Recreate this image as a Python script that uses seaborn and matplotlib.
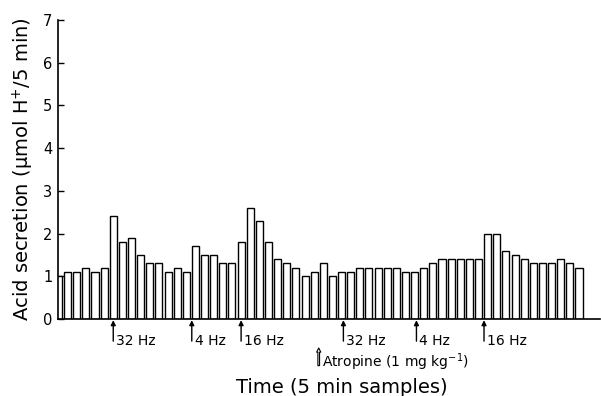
import numpy as np
import pandas as pd
import matplotlib
matplotlib.use("Agg")
import matplotlib.pyplot as plt
import matplotlib.transforms as mtransforms
import seaborn as sns

# acid secretion per 5 min sample (umol H+/5 min)
secretion = [1.0, 1.1, 1.1, 1.2, 1.1, 1.2, 2.4, 1.8, 1.9, 1.5,
             1.3, 1.3, 1.1, 1.2, 1.1, 1.7, 1.5, 1.5, 1.3, 1.3,
             1.8, 2.6, 2.3, 1.8, 1.4, 1.3, 1.2, 1.0, 1.1, 1.3,
             1.0, 1.1, 1.1, 1.2, 1.2, 1.2, 1.2, 1.2, 1.1, 1.1,
             1.2, 1.3, 1.4, 1.4, 1.4, 1.4, 1.4, 2.0, 2.0, 1.6,
             1.5, 1.4, 1.3, 1.3, 1.3, 1.4, 1.3, 1.2]
samples = list(range(len(secretion)))

# stimulation markers (sample position, label)
stim_pos = [6, 14.6, 20, 31.2, 39.2, 46.6]
stim_labels = ["32 Hz", "4 Hz", "16 Hz", "32 Hz", "4 Hz", "16 Hz"]
atropine_pos = 28.5
atropine_label = "Atropine (1 mg kg$^{-1}$)"

y_ticks = [0, 1, 2, 3, 4, 5, 6, 7]

sns.set_style("ticks")
plt.rcParams["font.family"] = ["DejaVu Sans"]
plt.rcParams["mathtext.fontset"] = "dejavusans"
for key in ["text.color", "axes.labelcolor", "xtick.color", "ytick.color",
            "axes.edgecolor"]:
    plt.rcParams[key] = "black"

fig = plt.figure(figsize=(6.01, 3.96), dpi=100)
ax = fig.add_axes([58 / 601, 1 - 319 / 396, 542 / 601, 299 / 396])

df = pd.DataFrame({"sample": samples, "secretion": secretion})
sns.barplot(data=df, x="sample", y="secretion", color="white",
            edgecolor="black", linewidth=1.0, width=0.77, ax=ax)

ax.set_xlim(-0.05, 59.3)
ax.set_ylim(0, 7)
ax.set_yticks(y_ticks)
ax.set_yticklabels([str(t) for t in y_ticks], fontsize=10.5)
ax.set_xticks([])
ax.tick_params(axis="y", direction="in", length=4, width=1, pad=4)
for side in ["top", "right"]:
    ax.spines[side].set_visible(False)
for side in ["left", "bottom"]:
    ax.spines[side].set_linewidth(1.2)

ax.set_ylabel("Acid secretion (\u03bcmol H$^{+}$/5 min)", fontsize=14, labelpad=5)
ax.set_xlabel("")

trans = mtransforms.blended_transform_factory(ax.transData, ax.transAxes)
for pos, lab in zip(stim_pos, stim_labels):
    ax.annotate("", xy=(pos, -0.004), xytext=(pos, -0.074),
                xycoords=trans, textcoords=trans, annotation_clip=False,
                arrowprops=dict(arrowstyle="-|>", color="black", lw=1.0,
                                mutation_scale=7, shrinkA=0, shrinkB=0))
    ax.text(pos + 0.3, -0.087, lab, transform=trans, fontsize=10,
            ha="left", va="baseline")

ax.annotate("", xy=(atropine_pos, -0.097), xytext=(atropine_pos, -0.156),
            xycoords=trans, textcoords=trans, annotation_clip=False,
            arrowprops=dict(arrowstyle="simple", facecolor="white",
                            edgecolor="black", lw=0.8, mutation_scale=6,
                            shrinkA=0, shrinkB=0))
ax.text(atropine_pos + 0.4, -0.161, atropine_label, transform=trans,
        fontsize=10, ha="left", va="baseline")

fig.text(342 / 601, 1 - 393 / 396, "Time (5 min samples)", fontsize=14,
         ha="center", va="baseline")

fig.savefig("out.png", dpi=100)
